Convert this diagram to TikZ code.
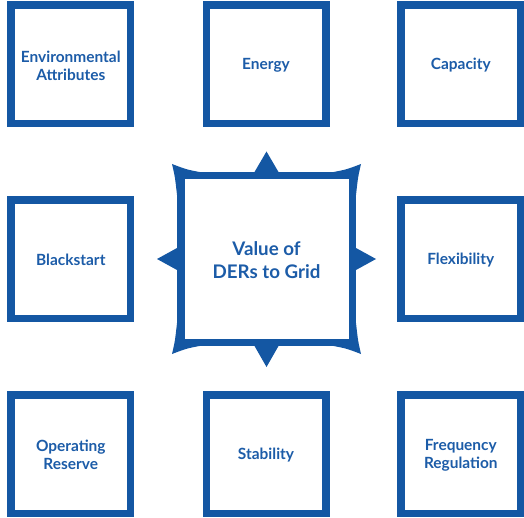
\documentclass[tikz,border=0pt]{standalone}
\usepackage{fontspec}
\setmainfont{Lato}
\definecolor{derblue}{RGB}{20,87,163}
\definecolor{dertext}{RGB}{28,92,168}
\begin{document}
\begin{tikzpicture}[x=1bp,y=-1bp,
  box/.style={draw=derblue,line width=7.5bp,fill=white,minimum width=119.5bp,minimum height=118.5bp,
    inner sep=0pt,align=center,text=dertext,font=\fontsize{15.5}{18}\selectfont\bfseries},
  hub/.style={draw=derblue,line width=7.5bp,fill=white,minimum width=171.5bp,minimum height=166.5bp,
    inner sep=0pt,align=center,text=dertext,font=\fontsize{18.8}{23}\selectfont\bfseries},
  lbl/.style={align=center,text=dertext,inner sep=0pt,font=\fontsize{15.5}{18}\selectfont\bfseries},
  spike/.style={fill=derblue,draw=none}]
\useasboundingbox (0,0) rectangle (524,518);
\node[box] (env) at (70.8,64.5) {};
\node[box] (energy) at (266,64.5) {};
\node[box] (cap) at (460.8,64.5) {};
\node[box] (black) at (70.8,259.2) {};
\node[box] (flex) at (460.8,259.2) {};
\node[box] (oper) at (70.8,454) {};
\node[box] (stab) at (266,454) {};
\node[box] (freq) at (460.8,454) {};
\node[hub] (hub) at (266.5,259) {};
\node[lbl] (envt) at ([yshift=-1bp]env.center) {Environmental\\Attributes};
\node[lbl] (energyt) at ([yshift=-1bp]energy.center) {Energy};
\node[lbl] (capt) at ([yshift=-1bp]cap.center) {Capacity};
\node[lbl] (blackt) at ([yshift=-1bp]black.center) {Blackstart};
\node[lbl] (flext) at ([yshift=-1bp]flex.center) {Flexibility};
\node[lbl] (opert) at ([yshift=-1bp]oper.center) {Operating\\Reserve};
\node[lbl] (stabt) at ([yshift=-1bp]stab.center) {Stability};
\node[lbl] (freqt) at ([yshift=-1bp]freq.center) {Frequency\\Regulation};
\node[lbl,font=\fontsize{18.8}{23}\selectfont\bfseries] (hubt) at ([yshift=-1.5bp]hub.center) {Value of\\DERs to Grid};
\begin{scope}[shift={(hub.center)}]
  % mid-edge spikes
  \fill[spike] (-12,-84) -- (-12,-87) -- (0,-107.5) -- (12,-87) -- (12,-84) -- cycle;
  \fill[spike] (-12,84) -- (-12,87) -- (0,108) -- (12,87) -- (12,84) -- cycle;
  \fill[spike] (-86,-11) -- (-89.5,-11) -- (-109.5,0) -- (-89.5,11) -- (-86,11) -- cycle;
  \fill[spike] (86,-11) -- (89.5,-11) -- (109.5,0) -- (89.5,11) -- (86,11) -- cycle;
  % corner spikes
  \foreach \sx/\sy in {1/1,-1/1,1/-1,-1/-1}{
    \begin{scope}[xscale=\sx,yscale=\sy]
      \fill[spike] (-67,-84) -- (-67,-87) .. controls (-80,-89.5) .. (-94.5,-95)
        .. controls (-91.5,-82) .. (-89.5,-64) -- (-86,-64) -- (-86,-84) -- cycle;
    \end{scope}
  }
\end{scope}
\end{tikzpicture}
\end{document}
